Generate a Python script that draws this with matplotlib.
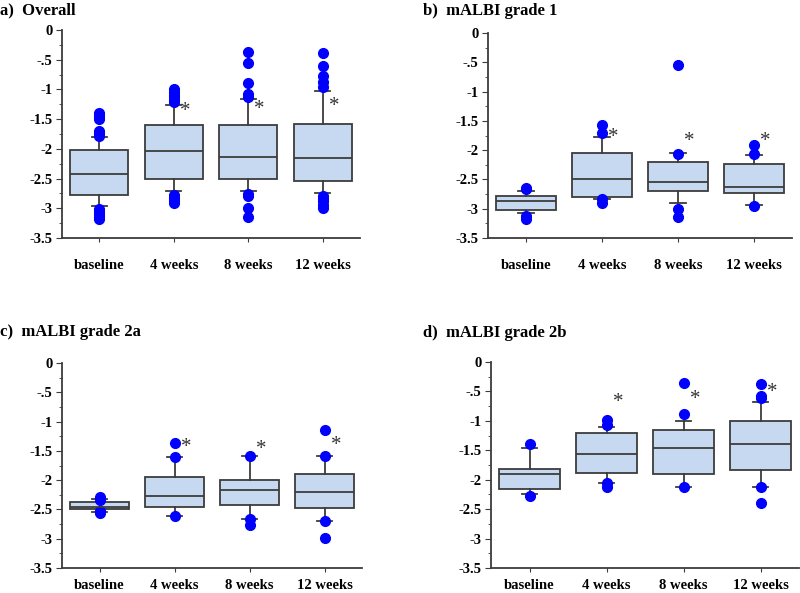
import matplotlib
matplotlib.use("Agg")
import matplotlib.pyplot as plt
from matplotlib.ticker import MultipleLocator

plt.rcParams['font.family'] = ['Liberation Serif', 'DejaVu Serif']
plt.rcParams['font.weight'] = 'bold'

categories = ["baseline", "4 weeks", "8 weeks", "12 weeks"]
ytick_values = [0, -0.5, -1, -1.5, -2, -2.5, -3, -3.5]
ytick_labels = ["0", "-.5", "-1", "-1.5", "-2", "-2.5", "-3", "-3.5"]

# Panel a) Overall
a_q3 = [-2.02, -1.60, -1.60, -1.58]
a_med = [-2.43, -2.03, -2.13, -2.15]
a_q1 = [-2.77, -2.50, -2.50, -2.54]
a_whishi = [-1.80, -1.26, -1.16, -1.02]
a_whislo = [-2.96, -2.71, -2.71, -2.74]
a_fliers = [
    [-1.40, -1.43, -1.46, -1.50, -1.70, -1.74, -1.78, -3.02, -3.06, -3.10, -3.14, -3.18],
    [-1.00, -1.05, -1.09, -1.13, -1.17, -1.21, -2.78, -2.82, -2.86, -2.91],
    [-0.375, -0.56, -0.885, -1.08, -1.12, -2.76, -2.80, -3.00, -3.15],
    [-0.39, -0.60, -0.77, -0.87, -0.96, -2.80, -2.84, -2.88, -2.94, -3.00],
]
a_star = [None, -1.37, -1.34, -1.29]

# Panel b) mALBI grade 1
b_q3 = [-2.78, -2.05, -2.20, -2.24]
b_med = [-2.87, -2.50, -2.54, -2.63]
b_q1 = [-3.02, -2.80, -2.69, -2.73]
b_whishi = [-2.69, -1.78, -2.05, -2.08]
b_whislo = [-3.07, -2.83, -2.90, -2.93]
b_fliers = [
    [-2.64, -2.67, -3.13, -3.17],
    [-1.57, -1.71, -2.84, -2.90],
    [-0.55, -2.06, -3.00, -3.14],
    [-1.92, -2.06, -2.95],
]
b_star = [None, -1.78, -1.85, -1.85]

# Panel c) mALBI grade 2a
c_q3 = [-2.37, -1.94, -2.00, -1.90]
c_med = [-2.45, -2.27, -2.17, -2.21]
c_q1 = [-2.49, -2.46, -2.42, -2.48]
c_whishi = [-2.32, -1.61, -1.59, -1.58]
c_whislo = [-2.55, -2.61, -2.66, -2.69]
c_fliers = [
    [-2.29, -2.34, -2.53, -2.56],
    [-1.37, -1.60, -2.61],
    [-1.59, -2.67, -2.76],
    [-1.15, -1.58, -2.69, -2.99],
]
c_star = [None, -1.45, -1.47, -1.41]

# Panel d) mALBI grade 2b
d_q3 = [-1.81, -1.21, -1.16, -1.01]
d_med = [-1.91, -1.56, -1.46, -1.39]
d_q1 = [-2.15, -1.88, -1.91, -1.84]
d_whishi = [-1.46, -1.10, -1.01, -0.68]
d_whislo = [-2.24, -2.05, -2.12, -2.13]
d_fliers = [
    [-1.40, -2.28],
    [-0.98, -1.07, -2.06, -2.12],
    [-0.36, -0.875, -2.13],
    [-0.37, -0.58, -0.61, -2.13, -2.39],
]
d_star = [None, -0.68, -0.64, -0.51]

panels = [
    ("a)  Overall", [62, 30, 360, 238], (0, 10), 12,
     a_q3, a_med, a_q1, a_whishi, a_whislo, a_fliers, a_star),
    ("b)  mALBI grade 1", [488, 33, 792, 238], (423, 11), 12,
     b_q3, b_med, b_q1, b_whishi, b_whislo, b_fliers, b_star),
    ("c)  mALBI grade 2a", [62, 363, 362, 568], (0, 332), 5,
     c_q3, c_med, c_q1, c_whishi, c_whislo, c_fliers, c_star),
    ("d)  mALBI grade 2b", [491, 362, 799, 568], (423, 333), 5,
     d_q3, d_med, d_q1, d_whishi, d_whislo, d_fliers, d_star),
]

W, H = 800, 593
fig = plt.figure(figsize=(8, 5.93), dpi=100)

edge = "#3c3c3c"
fill = "#c6d9f0"

for title, (l, t, r, b), (tx, ty), xpad, q3, med, q1, whi, wlo, fl, star in panels:
    ax = fig.add_axes([l / W, 1 - b / H, (r - l) / W, (b - t) / H])
    stats = []
    for i in range(len(categories)):
        stats.append(dict(med=med[i], q1=q1[i], q3=q3[i], whislo=wlo[i],
                          whishi=whi[i], fliers=fl[i], label=categories[i]))
    pos = list(range(1, len(categories) + 1))
    ax.bxp(stats, positions=pos, widths=0.78, patch_artist=True,
           capwidths=0.2,
           boxprops=dict(facecolor=fill, edgecolor=edge, linewidth=1.3),
           medianprops=dict(color=edge, linewidth=1.3),
           whiskerprops=dict(color=edge, linewidth=1.3),
           capprops=dict(color=edge, linewidth=1.3),
           flierprops=dict(marker='o', markerfacecolor='#0000ff',
                           markeredgecolor='#0000ff', markersize=7),
           manage_ticks=False)
    for i, s in enumerate(star):
        if s is not None:
            ax.text(pos[i] + 0.15, s, "*", ha='center', va='center',
                    fontsize=15, color='#333333', fontweight='normal')
    ax.set_xlim(0.5, 4.5)
    ax.set_ylim(-3.5, 0)
    ax.set_xticks(pos)
    ax.set_xticklabels(categories, fontsize=10.5, fontweight='bold')
    ax.set_yticks(ytick_values)
    ax.set_yticklabels(ytick_labels, fontsize=10.5, fontweight='bold')
    ax.yaxis.set_minor_locator(MultipleLocator(0.25))
    ax.tick_params(axis='x', length=3, pad=xpad, color=edge)
    ax.tick_params(axis='y', which='major', length=4, pad=3, color=edge)
    ax.tick_params(axis='y', which='minor', length=2, color=edge)
    for sp in ['top', 'right']:
        ax.spines[sp].set_visible(False)
    for sp in ['left', 'bottom']:
        ax.spines[sp].set_color(edge)
        ax.spines[sp].set_linewidth(1.3)
    fig.text(tx / W, 1 - ty / H, title, ha='left', va='center',
             fontsize=12, fontweight='bold')

fig.savefig("out.png", dpi=100)
